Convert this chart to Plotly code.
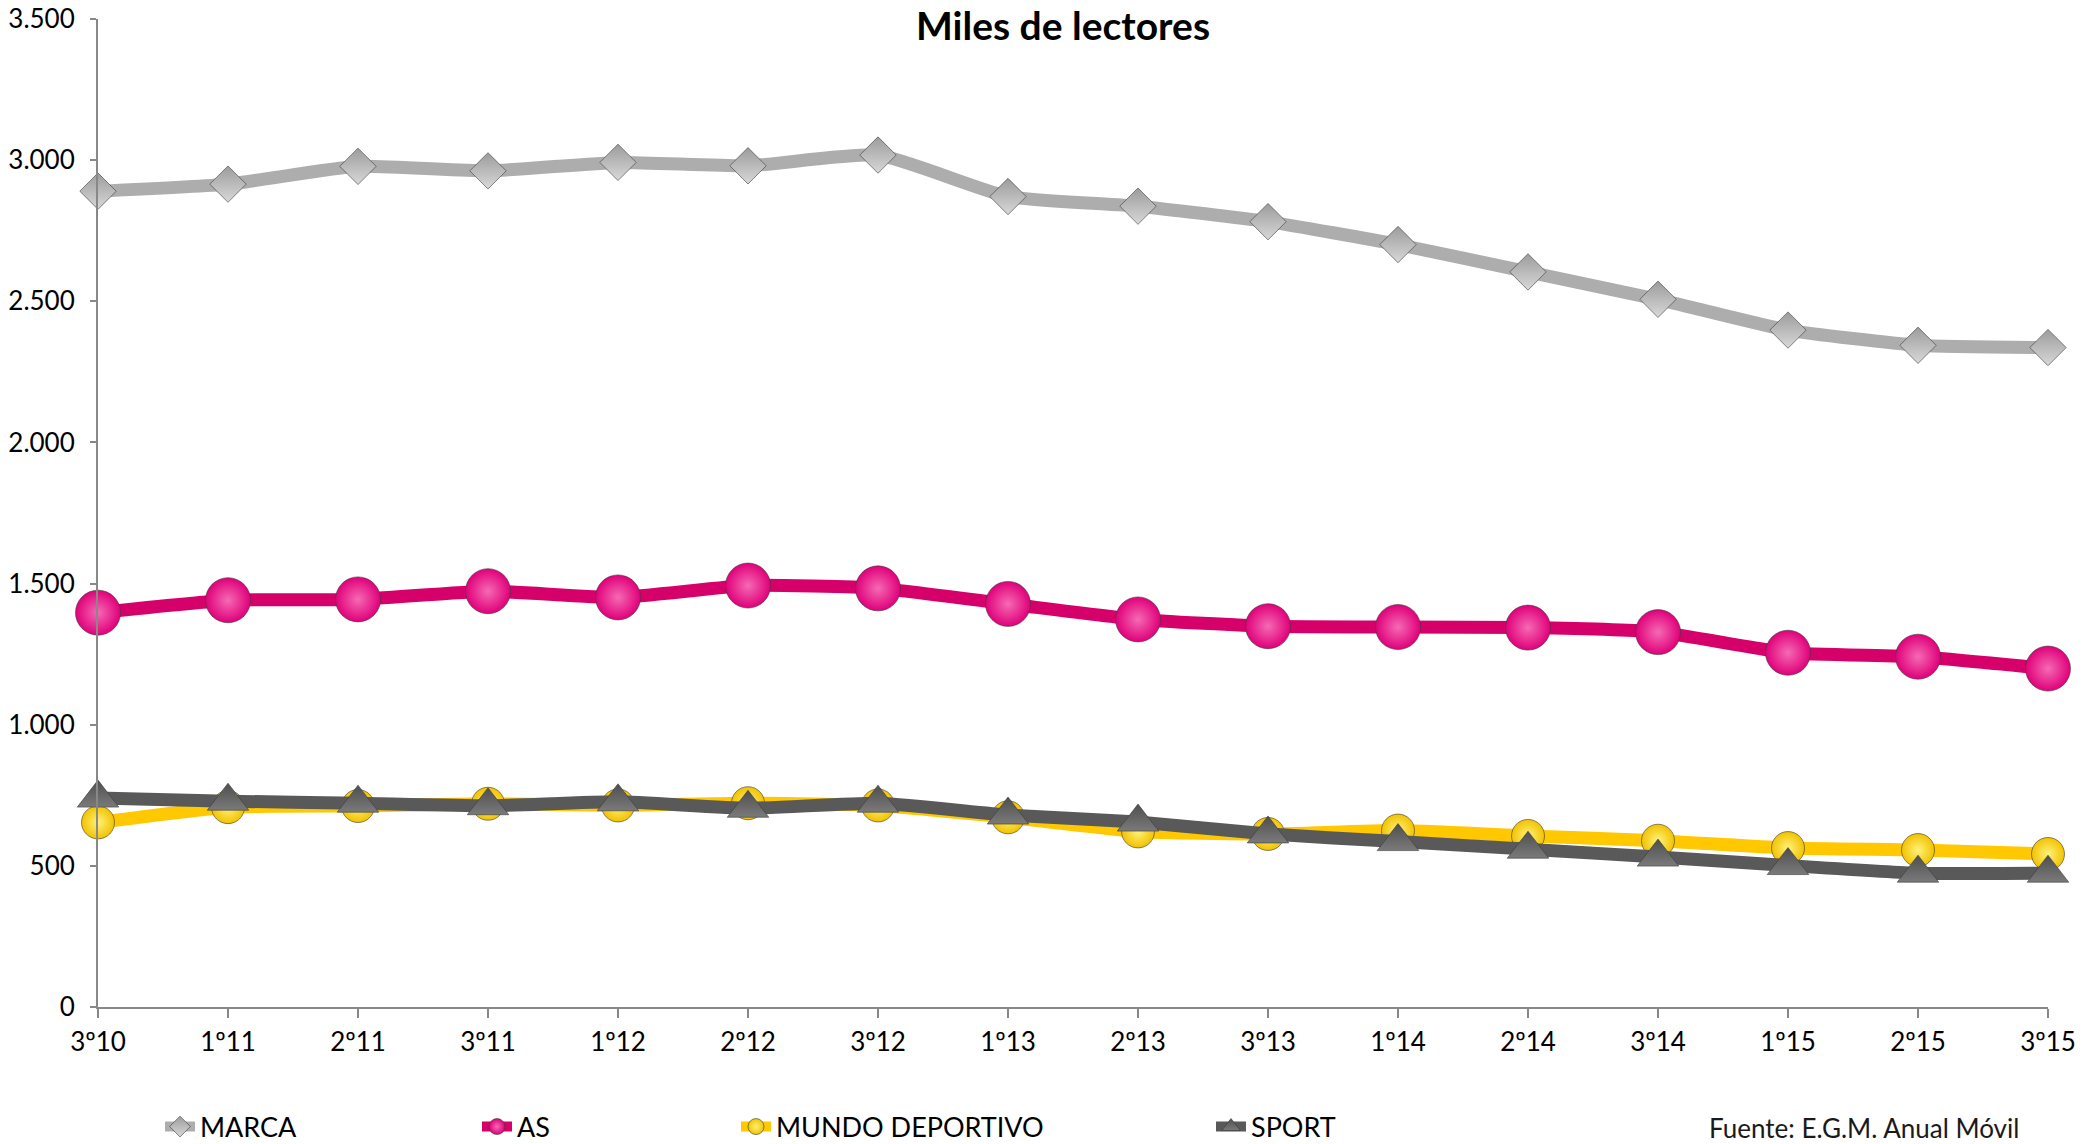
import plotly.graph_objects as go

categories = ["3º10", "1º11", "2º11", "3º11", "1º12", "2º12", "3º12", "1º13",
              "2º13", "3º13", "1º14", "2º14", "3º14", "1º15", "2º15", "3º15"]
marca = [2890, 2915, 2978, 2962, 2992, 2980, 3018, 2871, 2837, 2782, 2701, 2604, 2507, 2398, 2344, 2336]
as_ = [1397, 1441, 1444, 1473, 1451, 1493, 1483, 1428, 1373, 1349, 1346, 1344, 1328, 1255, 1241, 1199]
mundo = [654, 708, 712, 720, 714, 722, 714, 672, 622, 613, 625, 606, 589, 563, 556, 542]
sport = [740, 729, 722, 713, 727, 704, 722, 680, 655, 613, 586, 559, 531, 501, 474, 474]
y_ticks = [0, 500, 1000, 1500, 2000, 2500, 3000, 3500]

FONT = "Lato, Open Sans, sans-serif"
W, H = 2099, 1144
OFF = 8  # page body margin offset
ML, MR, MT, MB = 98 - OFF, 51 + OFF, 19 - OFF, 137 + OFF
PW, PH = W - ML - MR, H - MT - MB

series = [
    dict(name="MARCA", y=marca, line="#ADADAD", mcol="#9C9C9C", grad="#D8D8D8",
         sym="diamond", size=28, gtype="vertical", legend="legend", lx=160),
    dict(name="AS", y=as_, line="#D6006A", mcol="#E0007A", grad="#F56AB4",
         sym="circle", size=45, gtype="radial", legend="legend2", lx=477),
    dict(name="MUNDO DEPORTIVO", y=mundo, line="#FFC800", mcol="#F2C200", grad="#FFF27A",
         sym="circle", size=33, gtype="radial", legend="legend3", lx=736),
    dict(name="SPORT", y=sport, line="#595959", mcol="#4F4F4F", grad="#7A7A7A",
         sym="triangle-up", size=36, gtype="vertical", legend="legend4", lx=1211),
]

fig = go.Figure()
for s in series:
    fig.add_trace(go.Scatter(
        x=categories, y=s["y"], name=s["name"], mode="lines+markers",
        line=dict(color=s["line"], width=13, shape="spline", smoothing=0.5),
        marker=dict(symbol=s["sym"], size=s["size"], color=s["mcol"],
                    gradient=dict(type=s["gtype"], color=s["grad"]),
                    line=dict(color="rgba(60,60,60,0.6)", width=1)),
        cliponaxis=False, legend=s["legend"],
    ))

leg_common = dict(orientation="h", xref="container", yref="container",
                  xanchor="left", yanchor="middle", y=1 - 1119 / H,
                  font=dict(family=FONT, size=27, color="#000000"),
                  bgcolor="rgba(0,0,0,0)", borderwidth=0)
layout_legends = {}
for s in series:
    d = dict(leg_common)
    d["x"] = (s["lx"] - OFF) / W
    layout_legends[s["legend"]] = d

src_x = 2021 - OFF
src_y = 1128 - OFF

fig.update_layout(
    width=W, height=H,
    paper_bgcolor="white", plot_bgcolor="white",
    margin=dict(l=ML, r=MR, t=MT, b=MB, autoexpand=False),
    separators=",.",
    showlegend=True,
    title=dict(text="<b>Miles de lectores</b>", x=(1063 - OFF) / W, xref="container",
               xanchor="center", y=1 - 18 / H, yref="container", yanchor="middle",
               font=dict(family=FONT, size=39, color="#000000")),
    xaxis=dict(type="category", range=[0, 15], showgrid=False, zeroline=False,
               automargin=False,
               showline=True, linecolor="#888888", linewidth=2,
               ticks="outside", ticklen=9, tickcolor="#888888", tickwidth=1.5,
               ticklabelstandoff=2, ticklabeloverflow="allow",
               tickfont=dict(family=FONT, size=26, color="#000000")),
    yaxis=dict(range=[0, 3500], tickvals=y_ticks, tickformat=",d",
               showgrid=False, zeroline=False, automargin=False,
               showline=True, linecolor="#888888", linewidth=2,
               ticks="outside", ticklen=6, tickcolor="#888888", tickwidth=1.5,
               ticklabelstandoff=10, ticklabeloverflow="allow",
               tickfont=dict(family=FONT, size=26, color="#000000")),
    annotations=[dict(text="Fuente: E.G.M. Anual Móvil", xref="paper", yref="paper",
                      x=(src_x - ML) / PW, y=(H - MB - src_y) / PH,
                      xanchor="right", yanchor="middle", showarrow=False,
                      font=dict(family=FONT, size=26, color="#1A1A1A"))],
    **layout_legends,
)

fig.write_html("out.html")
